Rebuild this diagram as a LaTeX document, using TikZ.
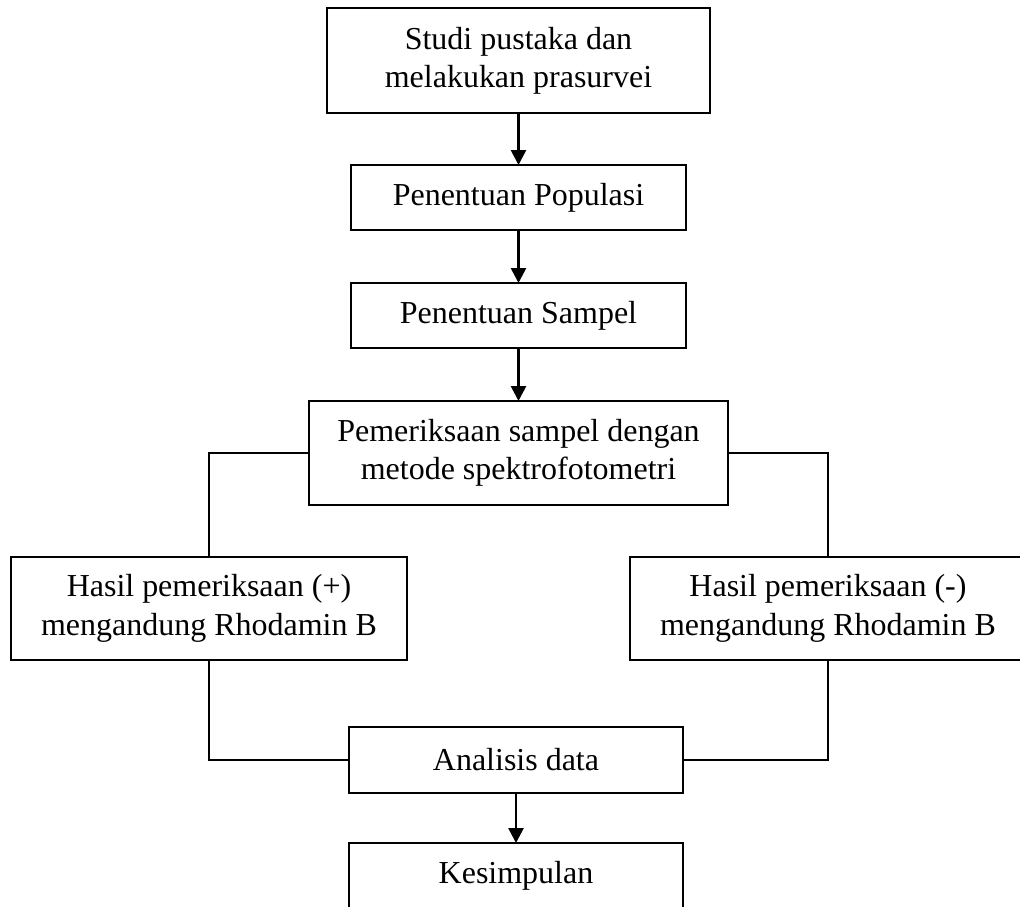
\documentclass[tikz,border=0pt]{standalone}
\usepackage{fontspec}
\setmainfont{Liberation Serif}
\usetikzlibrary{positioning, arrows.meta}

\begin{document}
\begin{tikzpicture}[
box/.style={draw, line width=1.1pt, align=center, inner sep=0pt, outer sep=0pt, font=\fontsize{18.2}{21.8}\selectfont},
arr/.style={line width=1.5pt, -{Triangle[width=0.3cm, length=0.3cm]}},
link/.style={line width=1.3pt}
]
\useasboundingbox (0,0) rectangle (20.4,-18.12);
\clip (0,0) rectangle (20.4,-18.12);
\node[box, minimum width=7.66cm, minimum height=2.1cm] (0) at (10.37,-1.21) {Studi pustaka dan\\melakukan prasurvei};
\node[box, minimum width=6.7cm, minimum height=1.3cm, below=1.04cm of 0] (1) {Penentuan Populasi};
\node[box, minimum width=6.7cm, minimum height=1.3cm, below=1.06cm of 1] (2) {Penentuan Sampel};
\node[box, minimum width=8.38cm, minimum height=2.08cm, below=1.06cm of 2] (3) {Pemeriksaan sampel dengan\\metode spektrofotometri};
\node[box, minimum width=7.92cm, minimum height=2.06cm, below=1.04cm of 3, xshift=-6.19cm] (4) {Hasil pemeriksaan (+)\\mengandung Rhodamin B};
\node[box, minimum width=7.92cm, minimum height=2.06cm, below=1.04cm of 3, xshift=6.19cm] (5) {Hasil pemeriksaan (-)\\mengandung Rhodamin B};
\node[box, minimum width=6.68cm, minimum height=1.32cm, below=4.44cm of 3, xshift=-0.05cm] (6) {Analisis data};
\node[box, minimum width=6.68cm, minimum height=1.32cm, below=1cm of 6] (7) {Kesimpulan};
\draw[arr] (0) -- (1);
\draw[arr] (1) -- (2);
\draw[arr] (2) -- (3);
\draw[link] (3.west) -| (4.north)
(3.east) -| (5.north)
(4.south) |- (6.west)
(5.south) |- (6.east);
\draw[arr] (6) -- (7);
\end{tikzpicture}
\end{document}
